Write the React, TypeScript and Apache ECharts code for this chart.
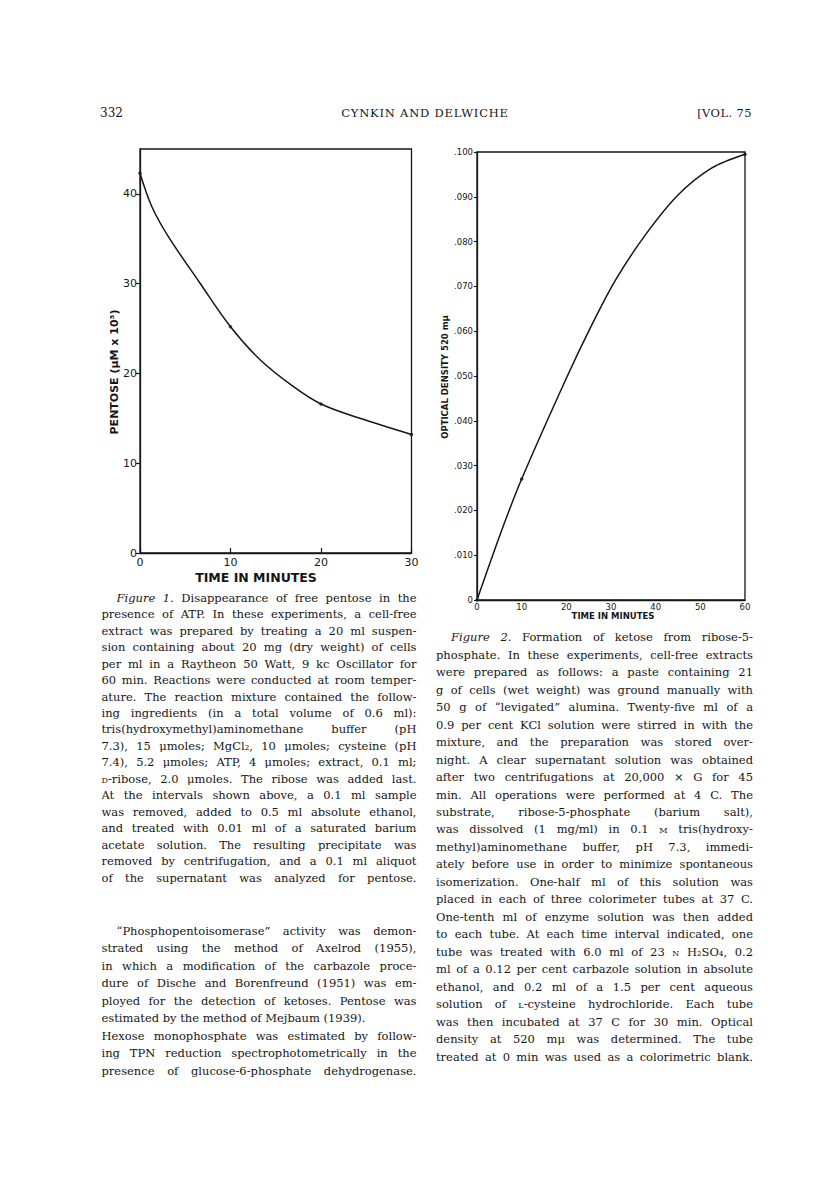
import React, { useEffect, useLayoutEffect, useRef } from "react";
import * as echarts from "echarts";

// ---------- Figure 1 data ----------
const fig1Time = [0, 10, 20, 30];
const fig1Pentose = [42.3, 25.2, 16.6, 13.2];
const fig1CurveTime = [0, 1.3, 3.1, 6.6, 10, 13.3, 17, 20, 24.3, 30];
const fig1CurvePentose = [42.3, 38.6, 35.3, 30.1, 25.2, 21.5, 18.5, 16.6, 15.0, 13.2];
const fig1YTicks = [0, 10, 20, 30, 40];

// ---------- Figure 2 data ----------
const fig2Time = [0, 10, 60];
const fig2Density = [0, 0.027, 0.0995];
const fig2CurveTime = [0, 5.7, 10, 20, 25.7, 31, 37.7, 45, 52.5, 60];
const fig2CurveDensity = [0, 0.016, 0.027, 0.0495, 0.0614, 0.0714, 0.0815, 0.0904, 0.0964, 0.0995];

// ---------- Page text ----------
const header = { page: "332", authors: "CYNKIN AND DELWICHE", volume: "[VOL. 75" };

const caption1 = [
  "<i>Figure 1.</i> Disappearance of free pentose in the",
  "presence of ATP. In these experiments, a cell-free",
  "extract was prepared by treating a 20 ml suspen-",
  "sion containing about 20 mg (dry weight) of cells",
  "per ml in a Raytheon 50 Watt, 9 kc Oscillator for",
  "60 min. Reactions were conducted at room temper-",
  "ature. The reaction mixture contained the follow-",
  "ing ingredients (in a total volume of 0.6 ml):",
  "tris(hydroxymethyl)aminomethane buffer (pH",
  "7.3), 15 μmoles; MgCl₂, 10 μmoles; cysteine (pH",
  "7.4), 5.2 μmoles; ATP, 4 μmoles; extract, 0.1 ml;",
  "<span class='sc'>d</span>-ribose, 2.0 μmoles. The ribose was added last.",
  "At the intervals shown above, a 0.1 ml sample",
  "was removed, added to 0.5 ml absolute ethanol,",
  "and treated with 0.01 ml of a saturated barium",
  "acetate solution. The resulting precipitate was",
  "removed by centrifugation, and a 0.1 ml aliquot",
  "of the supernatant was analyzed for pentose.",
];

const body1 = [
  "“Phosphopentoisomerase” activity was demon-",
  "strated using the method of Axelrod (1955),",
  "in which a modification of the carbazole proce-",
  "dure of Dische and Borenfreund (1951) was em-",
  "ployed for the detection of ketoses. Pentose was",
  "estimated by the method of Mejbaum (1939).",
  "Hexose monophosphate was estimated by follow-",
  "ing TPN reduction spectrophotometrically in the",
  "presence of glucose-6-phosphate dehydrogenase.",
];

const caption2 = [
  "<i>Figure 2.</i> Formation of ketose from ribose-5-",
  "phosphate. In these experiments, cell-free extracts",
  "were prepared as follows: a paste containing 21",
  "g of cells (wet weight) was ground manually with",
  "50 g of “levigated” alumina. Twenty-five ml of a",
  "0.9 per cent KCl solution were stirred in with the",
  "mixture, and the preparation was stored over-",
  "night. A clear supernatant solution was obtained",
  "after two centrifugations at 20,000 × G for 45",
  "min. All operations were performed at 4 C. The",
  "substrate, ribose-5-phosphate (barium salt),",
  "was dissolved (1 mg/ml) in 0.1 <span class='sc'>m</span> tris(hydroxy-",
  "methyl)aminomethane buffer, pH 7.3, immedi-",
  "ately before use in order to minimize spontaneous",
  "isomerization. One-half ml of this solution was",
  "placed in each of three colorimeter tubes at 37 C.",
  "One-tenth ml of enzyme solution was then added",
  "to each tube. At each time interval indicated, one",
  "tube was treated with 6.0 ml of 23 <span class='sc'>n</span> H₂SO₄, 0.2",
  "ml of a 0.12 per cent carbazole solution in absolute",
  "ethanol, and 0.2 ml of a 1.5 per cent aqueous",
  "solution of <span class='sc'>l</span>-cysteine hydrochloride. Each tube",
  "was then incubated at 37 C for 30 min. Optical",
  "density at 520 mμ was determined. The tube",
  "treated at 0 min was used as a colorimetric blank.",
];

const serif = '"DejaVu Serif", "Liberation Serif", serif';
const sans = '"DejaVu Sans", "Liberation Sans", sans-serif';
const ink = "#161616";

type Block = { lines: string[]; x: number; w: number; y0: number; dy: number; indent: number; ragged?: number[] };

const blocks: Block[] = [
  { lines: caption1, x: 101.5, w: 315, y0: 597.7, dy: 16.47, indent: 15 },
  { lines: body1, x: 101.5, w: 315, y0: 930.5, dy: 17.55, indent: 15, ragged: [5] },
  { lines: caption2, x: 436, w: 317, y0: 637.3, dy: 17.47, indent: 15 },
];

function pairs(xs: number[], ys: number[]) {
  return xs.map((x, i) => [x, ys[i]]);
}

const BASE_FONT = 11.5;

function TextLayer() {
  const layerRef = useRef<HTMLDivElement>(null);
  useLayoutEffect(() => {
    const root = layerRef.current;
    if (!root) return;
    const els = Array.from(root.querySelectorAll<HTMLDivElement>("[data-line]"));
    els.forEach((el) => {
      let fs = BASE_FONT;
      let guard = 0;
      while (el.scrollWidth > el.clientWidth + 0.5 && guard < 30) {
        fs -= 0.1;
        el.style.fontSize = fs + "px";
        guard++;
      }
    });
  }, []);
  const items: React.ReactNode[] = [];
  blocks.forEach((b, bi) => {
    b.lines.forEach((ln, li) => {
      const ind = li === 0 ? b.indent : 0;
      const ragged = b.ragged && b.ragged.includes(li);
      items.push(
        <div
          key={bi + "-" + li}
          data-line="1"
          style={{
            position: "absolute",
            left: b.x + ind,
            top: b.y0 + li * b.dy - 9,
            width: b.w - ind,
            height: 18,
            lineHeight: "18px",
            fontSize: BASE_FONT,
            fontFamily: serif,
            color: ink,
            whiteSpace: "nowrap",
            overflow: "hidden",
            textAlign: ragged ? "left" : "justify",
            textAlignLast: ragged ? "left" : "justify",
          }}
          dangerouslySetInnerHTML={{ __html: ln }}
        />
      );
    });
  });
  return (
    <div ref={layerRef} style={{ position: "absolute", left: 0, top: 0, width: 816, height: 1198, pointerEvents: "none" }}>
      <style>{".sc{font-variant:small-caps}"}</style>
      <div style={{ position: "absolute", left: 100, top: 104, fontSize: 12, fontFamily: serif, color: ink, lineHeight: "18px" }}>
        {header.page}
      </div>
      <div
        style={{
          position: "absolute",
          left: 300,
          width: 250,
          top: 104,
          textAlign: "center",
          fontSize: 11.5,
          letterSpacing: 0.8,
          fontFamily: serif,
          color: ink,
          lineHeight: "18px",
        }}
      >
        {header.authors}
      </div>
      <div
        style={{
          position: "absolute",
          left: 652,
          width: 100,
          top: 104,
          textAlign: "right",
          fontSize: 11.5,
          letterSpacing: 0.4,
          fontFamily: serif,
          color: ink,
          lineHeight: "18px",
        }}
      >
        {header.volume}
      </div>
      {items}
    </div>
  );
}

export default function App() {
  const ref = useRef<HTMLDivElement>(null);
  useEffect(() => {
    if (!ref.current) return;
    const chart = echarts.init(ref.current, undefined, { renderer: "svg" });
    const axisLine = { show: true, lineStyle: { color: ink, width: 1.3 } };
    const fig2Fmt = (v: number) => (v === 0 ? "0" : "." + v.toFixed(3).split(".")[1]);
    chart.setOption({
      animation: false,
      backgroundColor: "#ffffff",
      grid: [
        { left: 140, top: 149, width: 271.5, height: 404, show: true, borderColor: ink, borderWidth: 1.3, containLabel: false },
        { left: 477, top: 152, width: 268, height: 448, show: true, borderColor: ink, borderWidth: 1.3, containLabel: false },
      ],
      xAxis: [
        {
          type: "value",
          gridIndex: 0,
          min: 0,
          max: 30,
          interval: 10,
          axisLine,
          axisTick: { show: true, inside: true, length: 5, lineStyle: { color: ink, width: 1.2 } },
          axisLabel: { color: ink, fontFamily: sans, fontSize: 11, margin: 4 },
          splitLine: { show: false },
        },
        {
          type: "value",
          gridIndex: 1,
          min: 0,
          max: 60,
          interval: 10,
          axisLine,
          axisTick: { show: false },
          axisLabel: { color: ink, fontFamily: sans, fontSize: 8.5, margin: 2 },
          splitLine: { show: false },
        },
      ],
      yAxis: [
        {
          type: "value",
          gridIndex: 0,
          min: 0,
          max: 45,
          interval: 10,
          axisLine,
          axisTick: { show: true, length: 4, customValues: fig1YTicks, lineStyle: { color: ink, width: 1.2 } },
          axisLabel: { color: ink, fontFamily: sans, fontSize: 11, margin: 3, customValues: fig1YTicks },
          splitLine: { show: false },
        },
        {
          type: "value",
          gridIndex: 1,
          min: 0,
          max: 0.1,
          interval: 0.01,
          axisLine,
          axisTick: { show: true, length: 3, lineStyle: { color: ink, width: 1.1 } },
          axisLabel: { color: ink, fontFamily: sans, fontSize: 8.5, margin: 4, formatter: fig2Fmt },
          splitLine: { show: false },
        },
      ],
      series: [
        {
          type: "line",
          xAxisIndex: 0,
          yAxisIndex: 0,
          data: pairs(fig1CurveTime, fig1CurvePentose),
          smooth: 0.35,
          showSymbol: false,
          lineStyle: { color: ink, width: 1.5 },
        },
        {
          type: "scatter",
          xAxisIndex: 0,
          yAxisIndex: 0,
          data: pairs(fig1Time, fig1Pentose),
          symbolSize: 3.5,
          itemStyle: { color: ink },
        },
        {
          type: "line",
          xAxisIndex: 1,
          yAxisIndex: 1,
          data: pairs(fig2CurveTime, fig2CurveDensity),
          smooth: 0.3,
          showSymbol: false,
          lineStyle: { color: ink, width: 1.5 },
        },
        {
          type: "scatter",
          xAxisIndex: 1,
          yAxisIndex: 1,
          data: pairs(fig2Time, fig2Density),
          symbolSize: 3.5,
          itemStyle: { color: ink },
        },
      ],
      graphic: [
        {
          type: "text",
          x: 114,
          y: 372,
          rotation: Math.PI / 2,
          style: { text: "PENTOSE (μM x 10³)", font: `bold 11px ${sans}`, fill: ink, align: "center", verticalAlign: "middle" },
        },
        {
          type: "text",
          x: 256,
          y: 577,
          style: { text: "TIME IN MINUTES", font: `bold 12.5px ${sans}`, fill: ink, align: "center", verticalAlign: "middle" },
        },
        {
          type: "text",
          x: 445,
          y: 377,
          rotation: Math.PI / 2,
          style: { text: "OPTICAL DENSITY 520 mμ", font: `bold 8.5px ${sans}`, fill: ink, align: "center", verticalAlign: "middle" },
        },
        {
          type: "text",
          x: 613,
          y: 615.5,
          style: { text: "TIME IN MINUTES", font: `bold 8.5px ${sans}`, fill: ink, align: "center", verticalAlign: "middle" },
        },
      ],
    });
    return () => chart.dispose();
  }, []);
  return (
    <div style={{ position: "absolute", left: 0, top: 0, width: 816, height: 1198, background: "#fff" }}>
      <div ref={ref} style={{ position: "absolute", left: 0, top: 0, width: 816, height: 1198 }} />
      <TextLayer />
    </div>
  );
}
